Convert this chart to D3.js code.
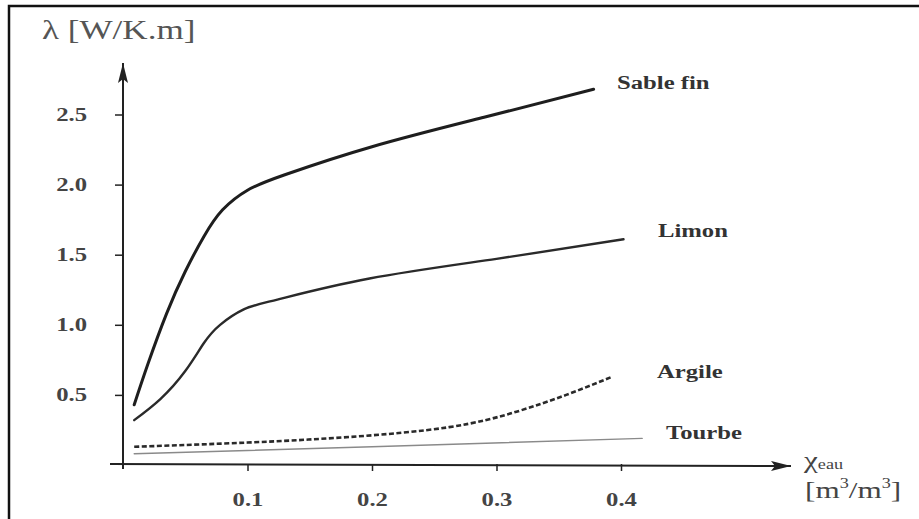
<!DOCTYPE html>
<html>
<head>
<meta charset="utf-8">
<script src="https://cdn.jsdelivr.net/npm/d3@7"></script>
<style>
  body { margin: 0; background: #fff; }
  text { font-family: "Liberation Serif", "DejaVu Serif", serif; }
</style>
</head>
<body>
<div id="chart"></div>
<script>
// data: [water content, lambda]
const sableFin = [[0.009, 0.43], [0.02, 0.72], [0.035, 1.08], [0.05, 1.38], [0.065, 1.63],
  [0.08, 1.82], [0.1, 1.96], [0.13, 2.07], [0.2, 2.27], [0.29, 2.48], [0.378, 2.68]];
const limon = [[0.009, 0.32], [0.030, 0.47], [0.05, 0.67], [0.065, 0.87], [0.078, 1.0],
  [0.097, 1.11], [0.124, 1.18], [0.198, 1.33], [0.30, 1.47], [0.402, 1.61]];
const argile = [[0.009, 0.13], [0.1, 0.16], [0.182, 0.20], [0.262, 0.27], [0.316, 0.38],
  [0.356, 0.50], [0.393, 0.63]];
const tourbe = [[0.009, 0.08], [0.2, 0.13], [0.417, 0.19]];

const seriesNames = ['Sable fin', 'Limon', 'Argile', 'Tourbe'];
const xTicks = [0.1, 0.2, 0.3, 0.4];
const yTicks = [0.5, 1.0, 1.5, 2.0, 2.5];

const width = 919;
const height = 519;
const stretch = 1.3; // the picture is widened, text too

const svg = d3.select('#chart')
  .append('svg')
  .attr('width', width)
  .attr('height', height);

svg.append('rect').attr('width', width).attr('height', height).attr('fill', '#fff');

// frame (only top and left edges are visible)
svg.append('path')
  .attr('d', `M9,${height} V6 H${width}`)
  .attr('fill', 'none')
  .attr('stroke', '#111')
  .attr('stroke-width', 2.5);

const x = d3.scaleLinear().domain([0, 0.4]).range([123, 621]);
const y = d3.scaleLinear().domain([0, 2.5]).range([465, 114.5]);

const axisColor = '#222';

// axis lines with arrows
const defs = svg.append('defs');
defs.append('marker')
  .attr('id', 'arrow')
  .attr('viewBox', '0 0 20 10')
  .attr('refX', 20).attr('refY', 5)
  .attr('markerWidth', 20).attr('markerHeight', 10)
  .attr('markerUnits', 'userSpaceOnUse')
  .attr('orient', 'auto')
  .append('path')
  .attr('d', 'M0,0 L20,5 L0,10 L4,5 Z')
  .attr('fill', axisColor);

svg.append('line')
  .attr('x1', x(0)).attr('y1', y(0) + 4)
  .attr('x2', x(0)).attr('y2', 63)
  .attr('stroke', axisColor).attr('stroke-width', 2)
  .attr('marker-end', 'url(#arrow)');

svg.append('line')
  .attr('x1', 110).attr('y1', y(0) - 1)
  .attr('x2', 791).attr('y2', y(0) + 1)
  .attr('stroke', axisColor).attr('stroke-width', 2)
  .attr('marker-end', 'url(#arrow)');

const yAxis = svg.append('g')
  .attr('transform', `translate(${x(0)},0)`)
  .call(d3.axisLeft(y).tickValues(yTicks).tickSize(8)
    .tickFormat(d3.format('.1f')));
yAxis.select('.domain').remove();
yAxis.selectAll('line').attr('stroke', axisColor).attr('stroke-width', 1.5);
yAxis.selectAll('text')
  .attr('x', -36 / stretch)
  .attr('transform', `scale(${stretch},1)`)
  .attr('font-size', 19).attr('font-weight', 'bold').attr('fill', '#444')
  .style('font-family', '"Liberation Serif", serif');

const xAxis = svg.append('g')
  .attr('transform', `translate(0,${y(0) - 1})`)
  .call(d3.axisBottom(x).tickValues(xTicks).tickSize(7).tickPadding(22)
    .tickFormat(d3.format('.1f')));
xAxis.select('.domain').remove();
xAxis.selectAll('line').attr('stroke', axisColor).attr('stroke-width', 1.5);
xAxis.selectAll('text')
  .attr('transform', `scale(${stretch},1)`)
  .attr('font-size', 19).attr('font-weight', 'bold').attr('fill', '#444')
  .style('font-family', '"Liberation Serif", serif');

// curves
const line = d3.line()
  .x((d) => x(d[0]))
  .y((d) => y(d[1]))
  .curve(d3.curveNatural);

const styles = [
  {data: sableFin, width: 3, color: '#1e1e1e', dash: null},
  {data: limon, width: 2.4, color: '#2a2a2a', dash: null},
  {data: argile, width: 2.6, color: '#2a2a2a', dash: '5,2.5'},
  {data: tourbe, width: 1.4, color: '#8a8a8a', dash: null},
];

svg.selectAll('path.curve')
  .data(styles)
  .enter()
  .append('path')
  .attr('class', 'curve')
  .attr('d', (s) => line(s.data))
  .attr('fill', 'none')
  .attr('stroke', (s) => s.color)
  .attr('stroke-width', (s) => s.width)
  .attr('stroke-dasharray', (s) => s.dash)
  .attr('stroke-linecap', (s) => (s.dash ? 'butt' : 'round'));

// curve labels
const labelPos = [[617, 89], [658, 237], [657, 378], [666, 439]];
svg.selectAll('text.label')
  .data(seriesNames)
  .enter()
  .append('text')
  .attr('class', 'label')
  .attr('transform', (d, i) => `translate(${labelPos[i][0]},${labelPos[i][1]}) scale(${stretch},1)`)
  .attr('font-size', 19)
  .attr('font-weight', 'bold')
  .attr('fill', '#333')
  .text((d) => d);

// axis titles
svg.append('text')
  .attr('transform', `translate(42,39) scale(${stretch},1)`)
  .attr('font-size', 27)
  .attr('fill', '#555')
  .text('λ [W/K.m]');

const xt = svg.append('text')
  .attr('transform', `translate(804,468) scale(${stretch},1)`)
  .attr('fill', '#444');
xt.append('tspan').attr('font-size', 24).text('χ');
xt.append('tspan').attr('font-size', 14).attr('dy', 1).text('eau');

const xu = svg.append('text')
  .attr('transform', `translate(805,498) scale(${stretch},1)`)
  .attr('font-size', 24)
  .attr('fill', '#444');
xu.append('tspan').text('[m');
xu.append('tspan').attr('font-size', 14).attr('dy', -10).text('3');
xu.append('tspan').attr('dy', 10).text('/m');
xu.append('tspan').attr('font-size', 14).attr('dy', -10).text('3');
xu.append('tspan').attr('dy', 10).text(']');
</script>
</body>
</html>
